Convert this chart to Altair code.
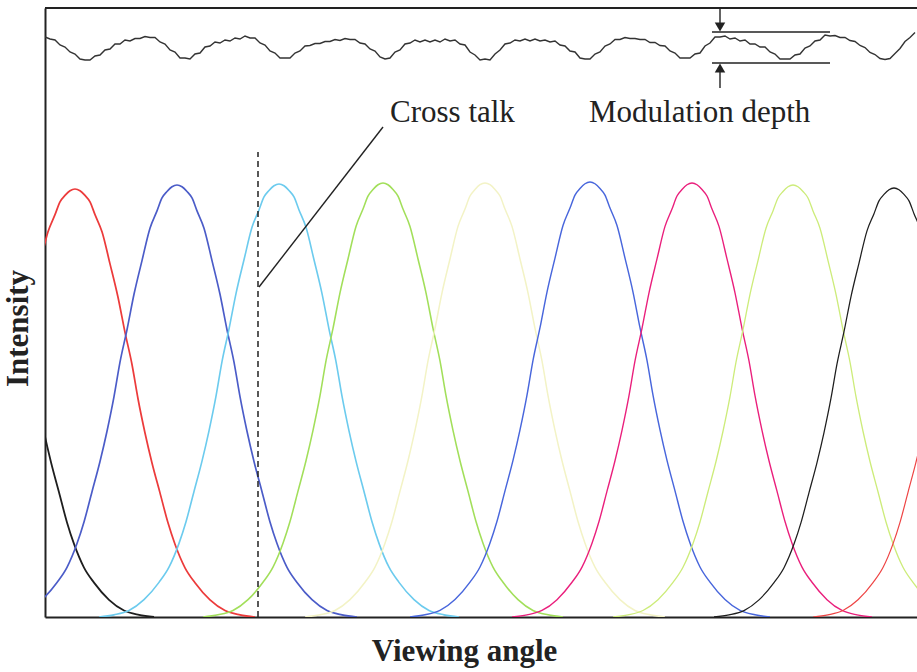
import altair as alt
import pandas as pd

# ---------------------------------------------------------------------------
# Data (viewing angle in arbitrary units, intensity in detector counts)
# ---------------------------------------------------------------------------

# Angular profile of one view channel: offset from its peak and relative level
PROFILE_OFFSET = [-180, -165, -150, -135, -120, -110, -100, -93, -85, -77, -70,
                  -63, -57, -50, -43, -35, -27, -20, -15, -10, -5, 0,
                  5, 10, 15, 20, 27, 35, 43, 50, 57, 63, 70, 77, 85, 93, 100,
                  110, 120, 135, 150, 165, 180]
PROFILE_LEVEL = [0.0, 0.005, 0.015, 0.04, 0.08, 0.115, 0.17, 0.22, 0.29, 0.36, 0.43,
                 0.51, 0.59, 0.665, 0.747, 0.825, 0.90, 0.94, 0.97, 0.985, 0.996, 1.0,
                 0.996, 0.985, 0.97, 0.94, 0.90, 0.825, 0.747, 0.665, 0.59, 0.51, 0.43,
                 0.36, 0.29, 0.22, 0.17, 0.115, 0.08, 0.04, 0.015, 0.005, 0.0]

# Individual view channels
CHANNELS = ["v0", "v1", "v2", "v3", "v4", "v5", "v6", "v7", "v8", "v9", "v10"]
CHANNEL_PEAK_ANGLE = [-71, 30, 132, 234, 338, 440, 545, 647, 748, 849, 948]
CHANNEL_PEAK_INTENSITY = [430, 428, 432, 433, 434, 434, 435, 434, 432, 429, 430]
CHANNEL_COLOR = ["#1e1e1e", "#ec3b3b", "#4b5cc8", "#6ccbee", "#a2df5a", "#f3f3c6",
                 "#4866dc", "#ea1f7c", "#cdec7a", "#1e1e1e", "#ee4444"]
CHANNEL_WIDTH = [1.8, 1.2, 1.1, 1.0, 1.0, 1.0, 1.1, 1.4, 1.0, 1.8, 1.2]

# Summed intensity over all channels (measured trace, top of the plot)
TOTAL_ANGLE = list(range(0, 875, 5))
TOTAL_INTENSITY = [
    580, 578, 577, 572, 570, 565, 563, 558, 557, 557,
    561, 562, 567, 568, 573, 573, 577, 576, 578.5, 578.5,
    580.5, 579.5, 579.5, 575, 573, 567, 565, 559, 559, 558,
    563, 564, 570, 571, 575, 574, 577, 576, 579, 578,
    581, 579, 579, 574, 572, 566, 564, 559, 559, 559,
    564, 566, 571, 571.5, 573.5, 573.5, 575.5, 575.5, 577.5, 576.5,
    578.5, 577.5, 577.5, 574, 573, 568, 566, 560, 558, 559,
    565, 567, 573, 574, 577, 575, 577, 575, 577, 575,
    578, 576, 577, 573, 572, 565, 562, 557, 558, 557,
    563, 567, 573, 574, 577, 576, 578, 576, 578, 576,
    577, 575, 576, 572, 571, 566, 565, 559, 558, 558,
    563, 565, 571, 573, 577.5, 577.5, 579.5, 578.5, 578.5, 577.5,
    577.5, 574.5, 574.5, 571.5, 571, 566, 564, 559, 559, 559,
    563, 564, 571, 574, 580, 580, 581, 578, 579, 576,
    577, 573, 573, 570, 570, 565, 563, 558, 558, 558,
    562, 563, 569, 571, 576, 577, 582, 581, 581.5, 579.5,
    579.5, 576.5, 575.5, 571.5, 569.5, 564.5, 562.5, 558.5, 557.5, 558.5,
    563.5, 568.5, 575.5, 579.5, 584.5,
]

# Annotation geometry in data units
CROSSTALK_ANGLE = [213]
CROSSTALK_RANGE = [0, 465]
LEADER_ANGLE = [214, 338]
LEADER_INTENSITY = [330, 490]
DEPTH_SPAN = [667, 785]
DEPTH_LEVELS = [585, 554]
DEPTH_ARROW_ANGLE = 675
LABELS = ["Cross talk", "Modulation depth"]
LABEL_ANGLE = [345, 544]
LABEL_INTENSITY = [495, 495]

ANGLE_MAX = 872
INTENSITY_MAX = 609

SERIF = "Liberation Serif"
INK = "#222222"

# ---------------------------------------------------------------------------
# Tables
# ---------------------------------------------------------------------------
rows = []
for name, centre, peak in zip(CHANNELS, CHANNEL_PEAK_ANGLE, CHANNEL_PEAK_INTENSITY):
    for off, lev in zip(PROFILE_OFFSET, PROFILE_LEVEL):
        rows.append({"channel": name, "angle": centre + off, "intensity": peak * lev})
channels_df = pd.DataFrame(rows)

total_df = pd.DataFrame({"angle": TOTAL_ANGLE, "intensity": TOTAL_INTENSITY})

x_scale = alt.Scale(domain=[0, ANGLE_MAX], nice=False, zero=False)
y_scale = alt.Scale(domain=[0, INTENSITY_MAX], nice=False, zero=False)

x_axis = alt.Axis(
    title="Viewing angle", ticks=False, labels=False, grid=False,
    domainColor=INK, domainWidth=2,
    titleFont=SERIF, titleFontSize=31, titleFontWeight="bold", titleColor=INK,
    titleX=419, titleY=43, titleAlign="center", titleBaseline="alphabetic",
)
y_axis = alt.Axis(
    title="Intensity", ticks=False, labels=False, grid=False,
    domainColor=INK, domainWidth=2,
    titleFont=SERIF, titleFontSize=31, titleFontWeight="bold", titleColor=INK,
    titleX=-18, titleY=320, titleAngle=270, titleAlign="center",
    titleBaseline="alphabetic",
)

X = alt.X("angle:Q", scale=x_scale, axis=x_axis)
Y = alt.Y("intensity:Q", scale=y_scale, axis=y_axis)

# ---------------------------------------------------------------------------
# Layers
# ---------------------------------------------------------------------------
curves = alt.Chart(channels_df).mark_line(clip=True, interpolate="monotone").encode(
    x=X,
    y=Y,
    color=alt.Color("channel:N", scale=alt.Scale(domain=CHANNELS, range=CHANNEL_COLOR), legend=None),
    strokeWidth=alt.StrokeWidth("channel:N", scale=alt.Scale(domain=CHANNELS, range=CHANNEL_WIDTH), legend=None),
)

total = alt.Chart(total_df).mark_line(color="#333333", strokeWidth=1.4, clip=True).encode(
    x="angle:Q", y="intensity:Q"
)

frame_top = alt.Chart(pd.DataFrame({"intensity": [INTENSITY_MAX]})).mark_rule(
    color=INK, strokeWidth=2
).encode(y="intensity:Q", x=alt.value(0), x2=alt.value(ANGLE_MAX))

crosstalk = alt.Chart(pd.DataFrame({
    "angle": CROSSTALK_ANGLE, "intensity": [CROSSTALK_RANGE[0]], "intensity2": [CROSSTALK_RANGE[1]]
})).mark_rule(color=INK, strokeWidth=1.5, strokeDash=[6, 4]).encode(
    x="angle:Q", y="intensity:Q", y2="intensity2:Q"
)

leader = alt.Chart(pd.DataFrame({
    "angle": [LEADER_ANGLE[0]], "angle2": [LEADER_ANGLE[1]],
    "intensity": [LEADER_INTENSITY[0]], "intensity2": [LEADER_INTENSITY[1]],
})).mark_rule(color=INK, strokeWidth=1.4).encode(
    x="angle:Q", x2="angle2:Q", y="intensity:Q", y2="intensity2:Q"
)

depth_lines = alt.Chart(pd.DataFrame({
    "angle": [DEPTH_SPAN[0]] * 2, "angle2": [DEPTH_SPAN[1]] * 2, "intensity": DEPTH_LEVELS,
})).mark_rule(color=INK, strokeWidth=1.6).encode(
    x="angle:Q", x2="angle2:Q", y="intensity:Q"
)

# arrow stems: from the frame down to the upper level, and from below up to the lower level
depth_stems = alt.Chart(pd.DataFrame({
    "angle": [DEPTH_ARROW_ANGLE] * 2,
    "intensity": [INTENSITY_MAX, 550],
    "intensity2": [590, 529],
})).mark_rule(color=INK, strokeWidth=1.4).encode(
    x="angle:Q", y="intensity:Q", y2="intensity2:Q"
)

depth_heads = alt.Chart(pd.DataFrame({
    "angle": [DEPTH_ARROW_ANGLE] * 2,
    "intensity": [590, 549],
    "head": ["down", "up"],
})).mark_point(filled=True, color=INK, opacity=1, size=110).encode(
    x="angle:Q", y="intensity:Q",
    shape=alt.Shape("head:N", scale=alt.Scale(domain=["down", "up"], range=["triangle-down", "triangle-up"]), legend=None),
)

labels = alt.Chart(pd.DataFrame({
    "angle": LABEL_ANGLE, "intensity": LABEL_INTENSITY, "label": LABELS
})).mark_text(
    font=SERIF, fontSize=31, color=INK, align="left", baseline="alphabetic"
).encode(x="angle:Q", y="intensity:Q", text="label:N")

chart = alt.layer(
    curves, total, crosstalk, leader, depth_lines, depth_stems, depth_heads, labels, frame_top
).properties(
    width=ANGLE_MAX,
    height=INTENSITY_MAX,
    autosize=alt.AutoSizeParams(type="none"),
    padding={"left": 45, "top": 8, "right": 0, "bottom": 55},
    background="white",
).configure_view(stroke=None)

chart.save("out.html", embed_options={"renderer": "svg", "actions": False})
